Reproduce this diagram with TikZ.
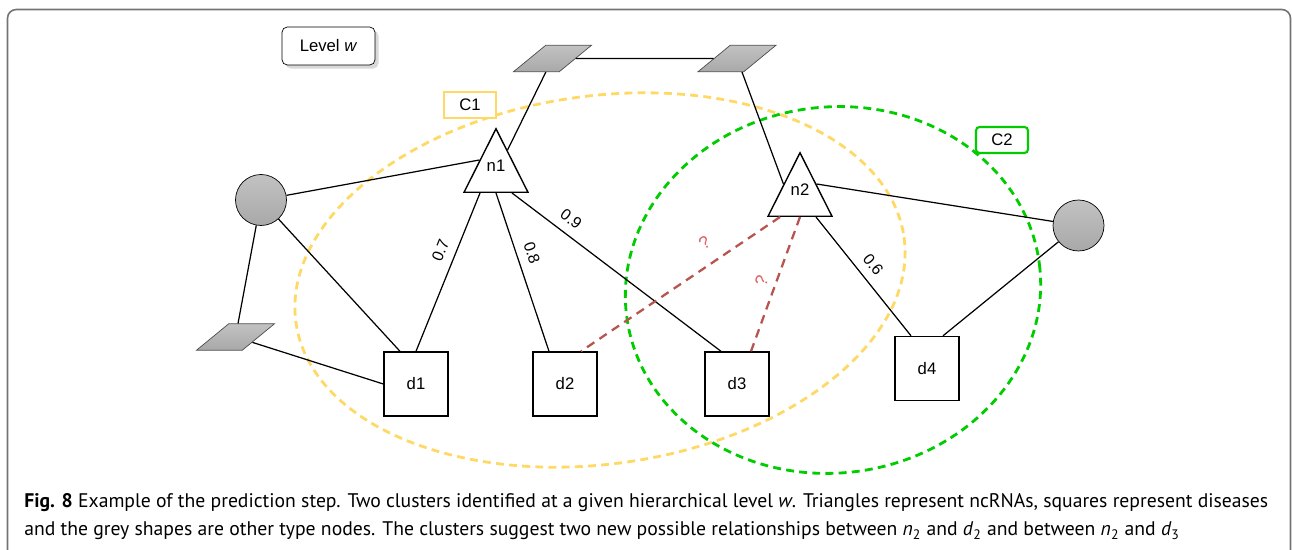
\documentclass[tikz,border=0pt]{standalone}
\usepackage{fontspec}
\setmainfont{Liberation Sans}
\newfontfamily\capfont{PT Sans}
\usepackage{tikz}
\usetikzlibrary{shapes.geometric, shadows}
\usepackage{xcolor}
\definecolor{cyellow}{HTML}{FFD966}
\definecolor{cgreen}{HTML}{00CC00}
\definecolor{cred}{HTML}{B85450}
\definecolor{cqm}{HTML}{E06060}

\begin{document}
\begin{tikzpicture}[
    x=0.02cm, y=-0.02cm,
    every node/.style={font=\fontsize{9.5}{11}\selectfont},
    dis/.style={draw, line width=0.8pt, fill=white, minimum size=1.28cm},
    rna/.style={
        draw, line width=0.8pt, fill=white, isosceles triangle,
        shape border rotate=90, isosceles triangle stretches,
        minimum width=1.28cm, minimum height=1.27cm, inner sep=1pt,
        text depth=9pt, anchor=lower side
    },
    other/.style={
        draw=black!70, trapezium, trapezium left angle=58,
        trapezium right angle=122, trapezium stretches,
        minimum width=1.56cm, minimum height=0.52cm, inner sep=2pt,
        top color=black!24, bottom color=black!34
    },
    blob/.style={draw, circle, minimum size=1.02cm, inner sep=0pt,
        top color=black!24, bottom color=black!34},
    link/.style={line width=0.7pt},
    guess/.style={cred, line width=1.3pt, dash pattern=on 5pt off 3.5pt},
    wt/.style={sloped, above, inner sep=5pt, font=\fontsize{9}{10}\selectfont},
    qm/.style={sloped, above, text=cqm, font=\fontsize{10}{11}\selectfont},
    clus/.style={line width=1.6pt, dash pattern=on 4.5pt off 3pt},
    tag/.style={line width=1.2pt, fill=white,
        minimum width=1.04cm, minimum height=0.52cm},
    caption/.style={anchor=base west, inner sep=0pt,
        font=\capfont\fontsize{11.2}{12}\selectfont}
]
    \useasboundingbox (0,0) rectangle (1292,550);
    % outer frame
    \draw[black!55, line width=0.9pt, rounded corners=5pt]
        (7.5,600) -- (7.5,9.5) -- (1290.5,9.5) -- (1290.5,600);

    % clusters
    \draw[clus, cyellow] (600,280) circle [x radius=307, y radius=184, rotate=8];
    \draw[clus, cgreen] (833,290) circle [x radius=208, y radius=183, rotate=7];

    \node[draw, rounded corners=3pt, fill=white, minimum width=1.86cm, minimum height=0.76cm,
        drop shadow={shadow xshift=2pt, shadow yshift=-2pt, opacity=0.3}]
        (lvl) at (328.5,46) {Level \textit{w}};
    \node[tag, draw=cyellow] (c1) at (470,105) {C1};
    \node[tag, draw=cgreen, rounded corners=2pt] (c2) at (1002,140) {C2};

    \node[other] (o1) at (552.5,58.5) {\strut};
    \node[other] (o2) at (737,58.5) {\strut};
    \node[other] (o3) at (235.5,337) {\strut};
    \node[blob] (lc) at (261,200) {};
    \node[blob] (rc) at (1078.5,225.5) {};
    \node[rna] (n1) at (496,193) {n1};
    \node[rna] (n2) at (800,217) {n2};
    \node[dis] (d1) at (416,384) {d1};
    \node[dis] (d2) at (565,384) {d2};
    \node[dis] (d3) at (737,384) {d3};
    \node[dis] (d4) at (927,368.5) {d4};

    \draw[link] (o1) -- (o2);
    \draw[link] (o1) -- (n1);
    \draw[link] (o2) -- (n2.left side);
    \draw[link] (lc) -- (n1.left side);
    \draw[link] (lc) -- ([xshift=-0.32cm]d1.north);
    \draw[link] (lc) -- (o3);
    \draw[link] (o3) -- (d1.west);
    \draw[link] ([xshift=-0.32cm]n1.lower side) -- node[wt, pos=0.40] {0.7} (d1.north);
    \draw[link] (n1.lower side) -- node[wt, pos=0.41] {0.8} ([xshift=-0.32cm]d2.north);
    \draw[link] ([xshift=0.32cm]n1.lower side) -- node[wt, pos=0.24] {0.9} ([xshift=-0.32cm]d3.north);
    \draw[link] (n2.right side) -- (rc);
    \draw[link] ([xshift=0.32cm]n2.lower side) -- node[wt, pos=0.48] {0.6} ([xshift=-0.32cm]d4.north);
    \draw[link] (rc) -- ([xshift=0.32cm]d4.north);
    \draw[guess] ([xshift=-0.4cm]n2.lower side) -- node[qm, pos=0.32, inner sep=8pt] {?} ([xshift=0.32cm]d2.north);
    \draw[guess] (n2.lower side) -- node[qm, pos=0.51, inner sep=4pt] {?} ([xshift=0.28cm]d3.north);

    \node[caption] (cap1) at (24,508) {\textbf{Fig. 8} Example of the prediction step. Two clusters identified at a given hierarchical level \textit{w}. Triangles represent ncRNAs, squares represent diseases};
    \node[caption] (cap2) at (24,536) {and the grey shapes are other type nodes. The clusters suggest two new possible relationships between \textit{n}\textsubscript{2} and \textit{d}\textsubscript{2} and between \textit{n}\textsubscript{2} and \textit{d}\textsubscript{3}};
\end{tikzpicture}
\end{document}
